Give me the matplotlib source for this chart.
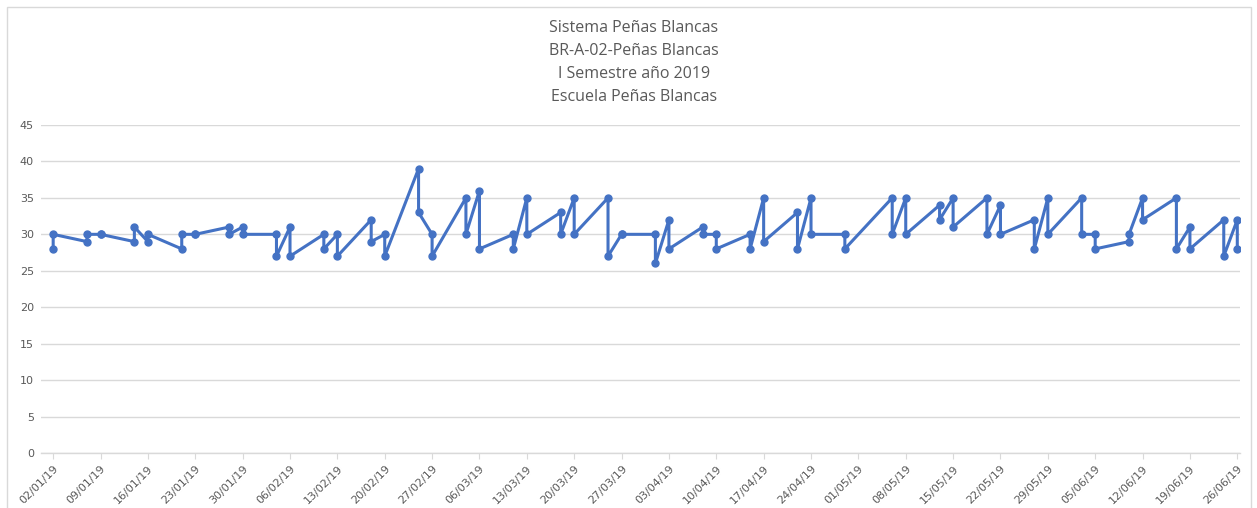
import matplotlib
matplotlib.use("Agg")
import matplotlib.pyplot as plt
import matplotlib.dates as mdates
from matplotlib.patches import Rectangle
import pandas as pd

# two readings per sampling day (first, second)
fechas = [
    "2019-01-02", "2019-01-07", "2019-01-09", "2019-01-14", "2019-01-16",
    "2019-01-21", "2019-01-23", "2019-01-28", "2019-01-30", "2019-02-04",
    "2019-02-06", "2019-02-11", "2019-02-13", "2019-02-18", "2019-02-20",
    "2019-02-25", "2019-02-27", "2019-03-04", "2019-03-06", "2019-03-11",
    "2019-03-13", "2019-03-18", "2019-03-20", "2019-03-25", "2019-03-27",
    "2019-04-01", "2019-04-03", "2019-04-08", "2019-04-10", "2019-04-15",
    "2019-04-17", "2019-04-22", "2019-04-24", "2019-04-29", "2019-05-06",
    "2019-05-08", "2019-05-13", "2019-05-15", "2019-05-20", "2019-05-22",
    "2019-05-27", "2019-05-29", "2019-06-03", "2019-06-05", "2019-06-10",
    "2019-06-12", "2019-06-17", "2019-06-19", "2019-06-24", "2019-06-26",
]
lectura_1 = [28, 29, 30, 29, 29, 28, 30, 31, 31, 30,
             31, 30, 30, 32, 30, 39, 30, 35, 36, 30,
             35, 33, 35, 35, 30, 30, 32, 31, 30, 30,
             35, 33, 35, 30, 35, 35, 34, 35, 35, 34,
             32, 35, 35, 30, 29, 35, 35, 31, 32, 32]
lectura_2 = [30, 30, 30, 31, 30, 30, 30, 30, 30, 27,
             27, 28, 27, 29, 27, 33, 27, 30, 28, 28,
             30, 30, 30, 27, 30, 26, 28, 30, 28, 28,
             29, 28, 30, 28, 30, 30, 32, 31, 30, 30,
             28, 30, 30, 28, 30, 32, 28, 28, 27, 28]

titulo = ["Sistema Peñas Blancas", "BR-A-02-Peñas Blancas",
          "I Semestre año 2019", "Escuela Peñas Blancas"]

dias = pd.to_datetime(fechas)
x, y = [], []
for d, a, b in zip(dias, lectura_1, lectura_2):
    x += [d, d]
    y += [a, b]

azul = "#4472C4"
gris = "#595959"
rejilla = "#D9D9D9"

fig = plt.figure(figsize=(12.57, 5.08), dpi=100)
ax = fig.add_axes([41 / 1257, 1 - 453 / 508, 1199 / 1257, 328 / 508])

ax.plot(x, y, color=azul, linewidth=2.2, marker="o", markersize=5)

ax.set_ylim(0, 45)
ax.set_yticks(range(0, 46, 5))
ax.set_xlim(dias[0] - pd.Timedelta(days=1.8), dias[-1] + pd.Timedelta(days=0.4))
ticks = pd.date_range("2019-01-02", "2019-06-26", freq="7D")
ax.set_xticks(ticks)
ax.xaxis.set_major_formatter(mdates.DateFormatter("%d/%m/%y"))

ax.grid(axis="y", color=rejilla, linewidth=1)
ax.set_axisbelow(True)
for s in ["top", "right", "left"]:
    ax.spines[s].set_visible(False)
ax.spines["bottom"].set_color(rejilla)
ax.spines["bottom"].set_linewidth(1)

ax.tick_params(axis="y", length=0, labelsize=8, labelcolor=gris, pad=5)
ax.tick_params(axis="x", length=4, color=rejilla, labelsize=8, labelcolor=gris)
for lbl in ax.get_xticklabels():
    lbl.set_rotation(45)
    lbl.set_ha("right")
    lbl.set_rotation_mode("anchor")

for i, t in enumerate(titulo):
    fig.text(634 / 1257, 1 - (28 + 23 * i) / 508, t, ha="center", va="center",
             fontsize=11.5, color=gris, family=["Open Sans", "DejaVu Sans"])

fig.patches.append(Rectangle((7 / 1257, -0.01), 1244 / 1257, 1 - 7 / 508 + 0.01,
                             transform=fig.transFigure, fill=False,
                             edgecolor=rejilla, linewidth=1))

fig.savefig("out.png", dpi=100)
